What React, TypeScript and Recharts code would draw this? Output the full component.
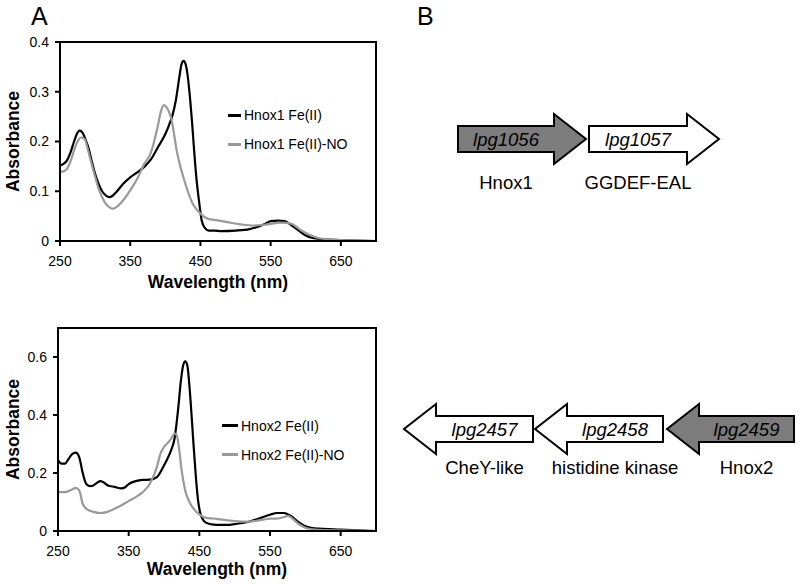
import { LineChart, Line, XAxis, YAxis, ReferenceArea, Legend, BarChart, Bar } from 'recharts'

const font = "'Liberation Sans', Arial, Helvetica, sans-serif"

// --- spectra, panel A ---
const hnox1FeIIWl = [250, 255, 260, 265, 270, 275, 278, 282, 286, 290, 295, 300, 305, 310, 315, 320, 325, 330, 340, 350, 360, 370, 380, 390, 400, 405, 410, 415, 420, 423, 426, 429, 432, 435, 438, 441, 444, 448, 452, 456, 462, 470, 480, 500, 520, 540, 550, 560, 570, 580, 590, 600, 610, 620, 650, 700]
const hnox1FeIIAbs = [0.152, 0.155, 0.162, 0.178, 0.2, 0.218, 0.222, 0.218, 0.205, 0.19, 0.162, 0.135, 0.115, 0.1, 0.092, 0.088, 0.091, 0.098, 0.115, 0.128, 0.138, 0.149, 0.165, 0.19, 0.215, 0.232, 0.252, 0.283, 0.33, 0.355, 0.362, 0.355, 0.33, 0.29, 0.24, 0.182, 0.13, 0.08, 0.04, 0.027, 0.021, 0.021, 0.02, 0.021, 0.024, 0.033, 0.04, 0.041, 0.04, 0.031, 0.021, 0.011, 0.006, 0.004, 0.002, 0]

const hnox1NOWl = [250, 255, 260, 265, 270, 275, 280, 285, 290, 295, 300, 305, 310, 315, 320, 325, 330, 340, 350, 360, 370, 379, 389, 394, 398, 402, 408, 417, 427, 439, 450, 460, 474, 488, 507, 526, 545, 564, 579, 593, 607, 620, 650, 700]
const hnox1NOAbs = [0.139, 0.14, 0.145, 0.16, 0.182, 0.2, 0.208, 0.205, 0.182, 0.155, 0.129, 0.105, 0.088, 0.075, 0.068, 0.065, 0.068, 0.082, 0.102, 0.125, 0.155, 0.176, 0.229, 0.262, 0.273, 0.268, 0.249, 0.176, 0.122, 0.075, 0.055, 0.045, 0.0415, 0.038, 0.0335, 0.031, 0.0335, 0.037, 0.035, 0.0215, 0.0114, 0.005, 0.002, 0]

const hnox2FeIIWl = [250, 255, 260, 265, 270, 275, 280, 285, 290, 295, 300, 305, 310, 315, 320, 330, 340, 345, 350, 360, 370, 380, 390, 400, 405, 410, 415, 420, 424, 427, 430, 433, 436, 439, 442, 445, 448, 451, 455, 460, 470, 480, 490, 500, 520, 540, 550, 560, 570, 580, 590, 600, 610, 620, 650, 700]
const hnox2FeIIAbs = [0.244, 0.232, 0.232, 0.249, 0.265, 0.27, 0.255, 0.2, 0.162, 0.155, 0.157, 0.166, 0.172, 0.167, 0.158, 0.152, 0.147, 0.151, 0.162, 0.172, 0.176, 0.177, 0.186, 0.226, 0.25, 0.278, 0.32, 0.42, 0.52, 0.57, 0.585, 0.571, 0.5, 0.4, 0.29, 0.19, 0.11, 0.065, 0.04, 0.028, 0.022, 0.021, 0.021, 0.024, 0.032, 0.048, 0.056, 0.062, 0.062, 0.051, 0.031, 0.016, 0.01, 0.008, 0.005, 0]

const hnox2NOWl = [250, 260, 270, 275, 280, 285, 290, 300, 310, 320, 330, 340, 350, 360, 370, 380, 390, 395, 400, 405, 410, 415, 418, 421, 425, 430, 435, 440, 450, 460, 470, 480, 490, 500, 520, 540, 550, 560, 570, 575, 580, 590, 600, 610, 620, 650, 700]
const hnox2NOAbs = [0.134, 0.134, 0.143, 0.149, 0.14, 0.094, 0.077, 0.066, 0.062, 0.066, 0.077, 0.089, 0.103, 0.117, 0.134, 0.163, 0.221, 0.267, 0.29, 0.303, 0.318, 0.336, 0.33, 0.29, 0.209, 0.14, 0.105, 0.083, 0.057, 0.045, 0.043, 0.04, 0.037, 0.034, 0.032, 0.039, 0.043, 0.043, 0.048, 0.052, 0.046, 0.025, 0.011, 0.006, 0.004, 0.002, 0]

const xTicks = [250, 350, 450, 550, 650]
const topYTicks = [0, 0.1, 0.2, 0.3, 0.4]
const bottomYTicks = [0, 0.2, 0.4, 0.6]

// --- gene neighbourhoods, panel B (positions in panel units) ---
const row1Genes = ['lpg1056', 'lpg1057']
const row1Functions = ['Hnox1', 'GGDEF-EAL']
const row1Starts = [58, 189]
const row1Ends = [186, 319]
const row1Strands = [1, 1]
const row1Hnox = [true, false]

const row2Genes = ['lpg2457', 'lpg2458', 'lpg2459']
const row2Functions = ['CheY-like', 'histidine kinase', 'Hnox2']
const row2Starts = [4, 135, 267]
const row2Ends = [133, 263, 394]
const row2Strands = [-1, -1, -1]
const row2Hnox = [false, false, true]

const zip = (wl: number[], abs: number[]) => wl.map((w, i) => ({ wl: w, abs: abs[i] }))

function SpectrumLegend({ payload, lineWidth }: any) {
  return (
    <div style={{ fontFamily: font, fontSize: 14, color: '#000' }}>
      {(payload ?? []).map((p: any) => (
        <div key={p.value} style={{ display: 'flex', alignItems: 'center', height: 29, whiteSpace: 'nowrap' }}>
          <span style={{ display: 'inline-block', width: lineWidth, height: 3, background: p.color, marginRight: 3 }} />
          {p.value}
        </div>
      ))}
    </div>
  )
}

interface SpectrumProps {
  top: number
  height: number
  marginTop: number
  axisHeight: number
  yAxisWidth: number
  yMax: number
  yTicks: number[]
  labelOffset: number
  series: { name: string; color: string; data: { wl: number; abs: number }[] }[]
  legendPos: { left: number; top: number; line: number }
}

function Spectrum({ top, height, marginTop, axisHeight, yAxisWidth, yMax, yTicks, labelOffset, series, legendPos }: SpectrumProps) {
  const tickStyle = { fontSize: 14, fill: '#000', fontFamily: font }
  return (
    <div style={{ position: 'absolute', left: 0, top }}>
      <LineChart width={400} height={height} margin={{ top: marginTop, right: 24, bottom: 0, left: 0 }}>
        <XAxis
          type="number"
          dataKey="wl"
          domain={[250, 700]}
          ticks={xTicks}
          height={axisHeight}
          tickSize={5}
          tickMargin={10}
          tick={tickStyle}
          axisLine={{ stroke: '#000', strokeWidth: 2 }}
          tickLine={{ stroke: '#000', strokeWidth: 2 }}
          label={{ value: 'Wavelength (nm)', position: 'insideBottom', offset: labelOffset, style: { fontSize: 17.5, fontWeight: 'bold', fill: '#000', fontFamily: font } }}
        />
        <YAxis
          type="number"
          domain={[0, yMax]}
          ticks={yTicks}
          width={yAxisWidth}
          tickSize={5}
          tickMargin={6}
          tick={tickStyle}
          axisLine={{ stroke: '#000', strokeWidth: 2 }}
          tickLine={{ stroke: '#000', strokeWidth: 2 }}
          label={{ value: 'Absorbance', angle: -90, position: 'insideLeft', offset: 13, style: { textAnchor: 'middle', fontSize: 17.5, fontWeight: 'bold', fill: '#000', fontFamily: font } }}
        />
        {series.map((s) => (
          <Line
            key={s.name}
            name={s.name}
            data={s.data}
            dataKey="abs"
            type="monotone"
            stroke={s.color}
            strokeWidth={2.2}
            dot={false}
            isAnimationActive={false}
          />
        ))}
        <ReferenceArea x1={250} x2={700} y1={0} y2={yMax} fill="none" stroke="#000" strokeWidth={2} ifOverflow="visible" />
        <Legend
          layout="vertical"
          align="center"
          verticalAlign="middle"
          wrapperStyle={{ left: legendPos.left, top: legendPos.top, width: 160 }}
          content={(props: any) => <SpectrumLegend {...props} lineWidth={legendPos.line} />}
        />
      </LineChart>
    </div>
  )
}

function GeneArrow(props: any) {
  const { x, y, width, height, strand, hnox, gene, func, labelDy } = props
  const cy = y + height / 2
  const half = height / 2
  const body = 13
  const head = 32
  const x0 = x
  const x1 = x + width
  let pts: number[][]
  let bodyMid: number
  if (strand > 0) {
    const hb = x1 - head
    pts = [[x0, cy - body], [hb, cy - body], [hb, cy - half], [x1, cy], [hb, cy + half], [hb, cy + body], [x0, cy + body]]
    bodyMid = (x0 + hb) / 2
  } else {
    const hb = x0 + head
    pts = [[x1, cy - body], [hb, cy - body], [hb, cy - half], [x0, cy], [hb, cy + half], [hb, cy + body], [x1, cy + body]]
    bodyMid = (hb + x1) / 2
  }
  return (
    <g>
      <polygon points={pts.map((p) => p.join(',')).join(' ')} fill={hnox ? '#7c7c7c' : '#fff'} stroke="#000" strokeWidth={2} />
      <text x={bodyMid} y={cy + 6.5} textAnchor="middle" fontStyle="italic" fontSize={18.5} fontFamily={font} fill="#000">
        {gene}
      </text>
      <text x={bodyMid} y={cy + labelDy} textAnchor="middle" fontSize={18.5} fontFamily={font} fill="#000">
        {func}
      </text>
    </g>
  )
}

interface GeneRowProps {
  center: number
  genes: string[]
  functions: string[]
  starts: number[]
  ends: number[]
  strands: number[]
  hnox: boolean[]
  labelDy: number
}

function GeneRow({ center, genes, functions, starts, ends, strands, hnox, labelDy }: GeneRowProps) {
  const row: Record<string, number | string> = { name: 'locus' }
  let cursor = 0
  genes.forEach((_, i) => {
    row[`gap${i}`] = starts[i] - cursor
    row[`gene${i}`] = ends[i] - starts[i]
    cursor = ends[i]
  })
  const h = 160
  return (
    <div style={{ position: 'absolute', left: 400, top: center - h / 2 }}>
      <BarChart width={400} height={h} layout="vertical" data={[row]} margin={{ top: 0, right: 0, bottom: 0, left: 0 }} barSize={50}>
        <XAxis type="number" domain={[0, 400]} hide />
        <YAxis type="category" dataKey="name" hide />
        {genes.flatMap((g, i) => [
          <Bar key={`gap${i}`} dataKey={`gap${i}`} stackId="locus" fill="none" isAnimationActive={false} />,
          <Bar
            key={`gene${i}`}
            dataKey={`gene${i}`}
            stackId="locus"
            isAnimationActive={false}
            shape={(p: any) => (
              <GeneArrow {...p} strand={strands[i]} hnox={hnox[i]} gene={g} func={functions[i]} labelDy={labelDy} />
            )}
          />,
        ])}
      </BarChart>
    </div>
  )
}

export default function App() {
  return (
    <div style={{ position: 'absolute', left: 0, top: 0, width: 800, height: 584, background: '#fff', fontFamily: font }}>
      <Spectrum
        top={0}
        height={300}
        marginTop={42}
        axisHeight={59}
        yAxisWidth={60}
        yMax={0.4}
        yTicks={topYTicks}
        labelOffset={12}
        series={[
          { name: 'Hnox1 Fe(II)', color: '#000', data: zip(hnox1FeIIWl, hnox1FeIIAbs) },
          { name: 'Hnox1 Fe(II)-NO', color: '#999', data: zip(hnox1NOWl, hnox1NOAbs) },
        ]}
        legendPos={{ left: 228, top: 100.5, line: 13 }}
      />
      <Spectrum
        top={290}
        height={294}
        marginTop={38}
        axisHeight={53}
        yAxisWidth={58}
        yMax={0.7}
        yTicks={bottomYTicks}
        labelOffset={9}
        series={[
          { name: 'Hnox2 Fe(II)', color: '#000', data: zip(hnox2FeIIWl, hnox2FeIIAbs) },
          { name: 'Hnox2 Fe(II)-NO', color: '#999', data: zip(hnox2NOWl, hnox2NOAbs) },
        ]}
        legendPos={{ left: 222, top: 121, line: 16 }}
      />
      <GeneRow
        center={138.5}
        genes={row1Genes}
        functions={row1Functions}
        starts={row1Starts}
        ends={row1Ends}
        strands={row1Strands}
        hnox={row1Hnox}
        labelDy={50}
      />
      <GeneRow
        center={428.5}
        genes={row2Genes}
        functions={row2Functions}
        starts={row2Starts}
        ends={row2Ends}
        strands={row2Strands}
        hnox={row2Hnox}
        labelDy={45}
      />
      <svg width={800} height={40} style={{ position: 'absolute', left: 0, top: 0, pointerEvents: 'none' }}>
        <text x={31} y={25} fontSize={25} fontFamily={font} fill="#000">A</text>
        <text x={417} y={25} fontSize={25} fontFamily={font} fill="#000">B</text>
      </svg>
    </div>
  )
}
